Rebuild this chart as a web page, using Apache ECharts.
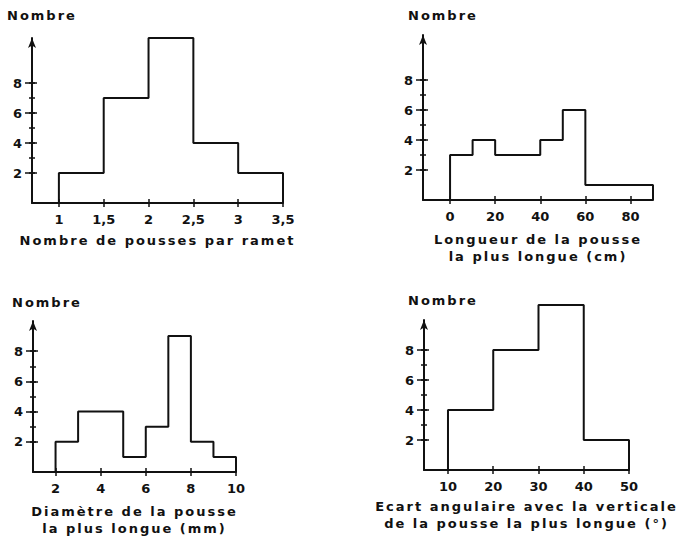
<!DOCTYPE html>
<html>
<head>
<meta charset="utf-8">
<script src="https://cdn.jsdelivr.net/npm/echarts@6/dist/echarts.min.js"></script>
<style>
html, body { margin: 0; padding: 0; background: #fff; }
#chart { width: 690px; height: 538px; }
#chart text[style*="Helvetica"] { letter-spacing: 2px; }
</style>
</head>
<body>
<div id="chart"></div>
<script>
// ---- Data ----
const p1Edges = [1, 1.5, 2, 2.5, 3, 3.5];
const p1Counts = [2, 7, 11, 4, 2];
const p1XTicks = [1, 1.5, 2, 2.5, 3, 3.5];

const p2Edges = [0, 10, 20, 40, 50, 60, 90];
const p2Counts = [3, 4, 3, 4, 6, 1];
const p2XTicks = [0, 20, 40, 60, 80];

const p3Edges = [2, 3, 4, 5, 6, 7, 8, 9, 10];
const p3Counts = [2, 4, 4, 1, 3, 9, 2, 1];
const p3XTicks = [2, 4, 6, 8, 10];

const p4Edges = [10, 20, 30, 40, 50];
const p4Counts = [4, 8, 11, 2];
const p4XTicks = [10, 20, 30, 40, 50];

const yLabelValues = [2, 4, 6, 8];
const yTickValues = [2, 3, 4, 5, 6, 7, 8];

const yTitle = 'Nombre';
const p1Name = 'Nombre de pousses par ramet';
const p2Name = 'Longueur de la pousse\nla plus longue (cm)';
const p3Name = 'Diamètre de la pousse\nla plus longue (mm)';
const p4Name = 'Ecart angulaire avec la verticale\nde la pousse la plus longue (°)';

// ---- Layout ----
const panels = [
  { edges: p1Edges, counts: p1Counts, xticks: p1XTicks, name: p1Name, comma: true,
    grid: { left: 32, top: 38, width: 251, height: 165 }, xmin: 0.7, xmax: 3.5, ymax: 11, nameGap: 29, title: [7, 15] },
  { edges: p2Edges, counts: p2Counts, xticks: p2XTicks, name: p2Name,
    grid: { left: 423, top: 35, width: 230, height: 165 }, xmin: -12, xmax: 90, ymax: 11, nameGap: 31, title: [408, 15] },
  { edges: p3Edges, counts: p3Counts, xticks: p3XTicks, name: p3Name,
    grid: { left: 33, top: 321, width: 203, height: 152 }, xmin: 1, xmax: 10, ymax: 10, nameGap: 31, title: [12, 302] },
  { edges: p4Edges, counts: p4Counts, xticks: p4XTicks, name: p4Name,
    grid: { left: 424, top: 320, width: 205, height: 150 }, xmin: 4.7, xmax: 50, ymax: 10, nameGap: 28, title: [408, 300] }
];

function outline(edges, counts) {
  const pts = [[edges[0], 0]];
  for (let i = 0; i < counts.length; i++) {
    pts.push([edges[i], counts[i]]);
    pts.push([edges[i + 1], counts[i]]);
  }
  pts.push([edges[edges.length - 1], 0]);
  return pts;
}

const INK = '#111';
const tickFont = { color: INK, fontWeight: 'bold', fontSize: 13, fontFamily: "'DejaVu Sans'" };
const nameFont = { color: INK, fontWeight: 'bold', fontSize: 13, fontFamily: "'DejaVu Sans', Helvetica", lineHeight: 17 };

const grid = [], xAxis = [], yAxis = [], series = [], graphic = [];
let yCount = 0;
panels.forEach((p, i) => {
  grid.push(Object.assign({ containLabel: false }, p.grid));
  xAxis.push({
    type: 'value', gridIndex: i, min: p.xmin, max: p.xmax, position: 'bottom',
    axisLine: { show: true, onZero: false, lineStyle: { color: INK, width: 2 } },
    axisTick: { show: true, customValues: p.xticks, length: 4, lineStyle: { color: INK, width: 1.5 } },
    axisLabel: Object.assign({ customValues: p.xticks, margin: 10,
      formatter: v => p.comma ? String(v).replace('.', ',') : String(v) }, tickFont),
    splitLine: { show: false },
    name: p.name, nameLocation: 'middle', nameGap: p.nameGap, nameTextStyle: nameFont
  });
  xAxis.push({
    type: 'value', gridIndex: i, min: p.xmin, max: p.xmax, position: 'bottom',
    axisLine: { show: false, onZero: false },
    axisTick: { show: true, inside: true, customValues: p.xticks, length: 4, lineStyle: { color: INK, width: 1.5 } },
    axisLabel: { show: false }, splitLine: { show: false }
  });
  const mainY = yCount;
  yAxis.push({
    type: 'value', gridIndex: i, min: 0, max: p.ymax, position: 'left',
    axisLine: { show: true, onZero: false, symbol: ['none', 'arrow'], symbolSize: [6, 10], lineStyle: { color: INK, width: 2 } },
    axisTick: { show: true, customValues: yTickValues, length: 3, lineStyle: { color: INK, width: 1.5 } },
    axisLabel: Object.assign({ customValues: yLabelValues, margin: 10, verticalAlign: 'middle', padding: [0, 0, 9, 0] }, tickFont),
    splitLine: { show: false }
  });
  const extraTicks = [
    { inside: true, vals: yTickValues, len: 3 },
    { inside: false, vals: yLabelValues, len: 7 },
    { inside: true, vals: yLabelValues, len: 5 }
  ];
  extraTicks.forEach(t => {
    yAxis.push({
      type: 'value', gridIndex: i, min: 0, max: p.ymax, position: 'left',
      axisLine: { show: false, onZero: false },
      axisTick: { show: true, inside: t.inside, customValues: t.vals, length: t.len, lineStyle: { color: INK, width: 1.5 } },
      axisLabel: { show: false }, splitLine: { show: false }
    });
  });
  yCount += 4;
  series.push({
    type: 'line', xAxisIndex: 2 * i, yAxisIndex: mainY, data: outline(p.edges, p.counts),
    showSymbol: false, symbol: 'none', clip: false, silent: true,
    lineStyle: { color: INK, width: 2 }, animation: false
  });
  graphic.push({
    type: 'text', x: p.title[0], y: p.title[1],
    style: { text: yTitle, fill: INK, font: "bold 13px 'DejaVu Sans', Helvetica", verticalAlign: 'middle', align: 'left' }
  });
});

const chart = echarts.init(document.getElementById('chart'), null, { renderer: 'svg' });
chart.setOption({ animation: false, backgroundColor: '#fff', grid, xAxis, yAxis, series, graphic });
</script>
</body>
</html>
